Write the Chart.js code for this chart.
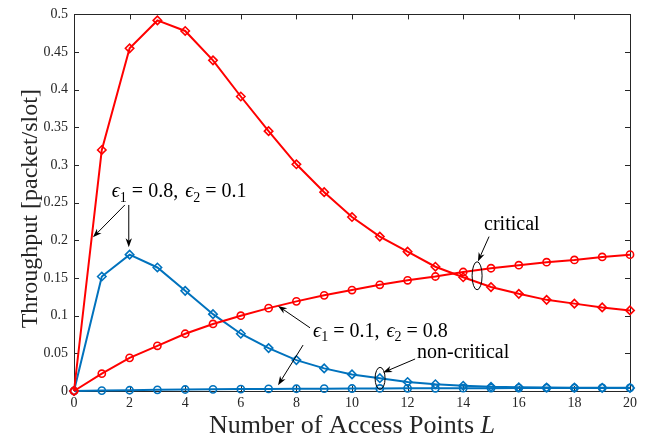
<!DOCTYPE html>
<html>
<head>
<meta charset="utf-8">
<script src="https://cdn.jsdelivr.net/npm/chart.js@4/dist/chart.umd.min.js"></script>
<style>
  html, body { margin: 0; padding: 0; background: #fff; }
</style>
</head>
<body>
<canvas id="chart" width="659" height="440"></canvas>
<script>
const accessPoints = [0, 1, 2, 3, 4, 5, 6, 7, 8, 9, 10, 11, 12, 13, 14, 15, 16, 17, 18, 19, 20];

// eps1 = 0.8, eps2 = 0.1
const criticalHigh = [0, 0.320, 0.455, 0.492, 0.478, 0.439, 0.391, 0.345, 0.301, 0.264, 0.231,
  0.205, 0.185, 0.165, 0.151, 0.138, 0.129, 0.121, 0.116, 0.111, 0.107];
const nonCriticalHigh = [0, 0.152, 0.181, 0.164, 0.133, 0.102, 0.076, 0.057, 0.041, 0.030, 0.022,
  0.017, 0.012, 0.009, 0.007, 0.0055, 0.005, 0.0046, 0.0044, 0.0042, 0.004];

// eps1 = 0.1, eps2 = 0.8
const criticalLow = [0, 0.023, 0.044, 0.060, 0.076, 0.089, 0.100, 0.110, 0.119, 0.127, 0.134,
  0.141, 0.147, 0.152, 0.158, 0.163, 0.167, 0.171, 0.174, 0.178, 0.181];
const nonCriticalLow = [0, 0.0005, 0.001, 0.0015, 0.002, 0.0022, 0.0025, 0.0028, 0.003, 0.0031, 0.0033,
  0.0034, 0.0035, 0.0036, 0.0037, 0.0038, 0.0039, 0.004, 0.004, 0.0041, 0.0042];

const xTicks = [0, 2, 4, 6, 8, 10, 12, 14, 16, 18, 20];

const RED = '#ff0000';
const BLUE = '#0072bd';
const AXIS = '#262626';
const SERIF = '"Liberation Serif", "DejaVu Serif", serif';

function pts(ys) {
  return accessPoints.map((x, i) => ({ x: x, y: ys[i] }));
}

function series(ys, color, style) {
  return {
    data: pts(ys),
    borderColor: color,
    backgroundColor: 'rgba(0,0,0,0)',
    borderWidth: 2,
    pointStyle: style,
    pointRadius: style === 'rectRot' ? 4.2 : 3.6,
    pointBorderWidth: 1.6,
    pointBorderColor: color,
    pointBackgroundColor: 'rgba(0,0,0,0)',
    tension: 0,
    clip: false
  };
}

// draw text made of pieces (italic, subscript, extra gaps)
function richText(ctx, parts, x, y, size) {
  let cx = x;
  ctx.textAlign = 'left';
  ctx.textBaseline = 'alphabetic';
  parts.forEach(p => {
    if (p.gap) { cx += p.gap; return; }
    const s = p.sub ? size * 0.7 : size;
    ctx.font = (p.it ? 'italic ' : '') + s + 'px ' + SERIF;
    ctx.fillText(p.t, cx, y + (p.sub ? size * 0.22 : 0));
    cx += ctx.measureText(p.t).width;
  });
}

function epsText(a, b) {
  return [
    { t: 'ϵ', it: true }, { t: '1', sub: true }, { gap: 5 }, { t: '=' }, { gap: 5 }, { t: a + ',' }, { gap: 7 },
    { t: 'ϵ', it: true }, { t: '2', sub: true }, { gap: 5 }, { t: '=' }, { gap: 5 }, { t: b }
  ];
}

function arrow(ctx, x1, y1, x2, y2) {
  const a = Math.atan2(y2 - y1, x2 - x1);
  const len = 9, w = 3.2;
  ctx.beginPath();
  ctx.moveTo(x1, y1);
  ctx.lineTo(x2 - Math.cos(a) * len * 0.7, y2 - Math.sin(a) * len * 0.7);
  ctx.stroke();
  ctx.beginPath();
  ctx.moveTo(x2, y2);
  ctx.lineTo(x2 - Math.cos(a) * len + Math.sin(a) * w, y2 - Math.sin(a) * len - Math.cos(a) * w);
  ctx.lineTo(x2 - Math.cos(a) * len * 0.7, y2 - Math.sin(a) * len * 0.7);
  ctx.lineTo(x2 - Math.cos(a) * len - Math.sin(a) * w, y2 - Math.sin(a) * len + Math.cos(a) * w);
  ctx.closePath();
  ctx.fill();
}

const frame = {
  id: 'frame',
  beforeDatasetsDraw(chart) {
    const ctx = chart.ctx, a = chart.chartArea;
    const xs = chart.scales.x, ys = chart.scales.y;
    ctx.save();
    ctx.strokeStyle = AXIS;
    ctx.lineWidth = 1;
    ctx.strokeRect(Math.round(a.left) + 0.5, Math.round(a.top) + 0.5,
      Math.round(a.right - a.left), Math.round(a.bottom - a.top));
    ctx.beginPath();
    xs.ticks.forEach(t => {
      const px = Math.round(xs.getPixelForValue(t.value)) + 0.5;
      ctx.moveTo(px, a.bottom); ctx.lineTo(px, a.bottom - 5);
      ctx.moveTo(px, a.top); ctx.lineTo(px, a.top + 5);
    });
    ys.ticks.forEach(t => {
      const py = Math.round(ys.getPixelForValue(t.value)) + 0.5;
      ctx.moveTo(a.left, py); ctx.lineTo(a.left + 5, py);
      ctx.moveTo(a.right, py); ctx.lineTo(a.right - 5, py);
    });
    ctx.stroke();

    // axis titles
    ctx.fillStyle = AXIS;
    ctx.textBaseline = 'alphabetic';
    const xt1 = 'Number of Access Points ';
    ctx.font = '26px ' + SERIF;
    const w1 = ctx.measureText(xt1).width;
    ctx.font = 'italic 26px ' + SERIF;
    const w2 = ctx.measureText('L').width;
    const sx = (a.left + a.right) / 2 - (w1 + w2) / 2;
    ctx.font = '26px ' + SERIF;
    ctx.textAlign = 'left';
    ctx.fillText(xt1, sx, 433);
    ctx.font = 'italic 26px ' + SERIF;
    ctx.fillText('L', sx + w1, 433);

    ctx.save();
    ctx.translate(37, (a.top + a.bottom) / 2 + 6);
    ctx.rotate(-Math.PI / 2);
    ctx.font = '24px ' + SERIF;
    ctx.textAlign = 'center';
    ctx.fillText('Throughput [packet/slot]', 0, 0);
    ctx.restore();
    ctx.restore();
  },
  afterDatasetsDraw(chart) {
    const ctx = chart.ctx;
    const X = v => chart.scales.x.getPixelForValue(v);
    const Y = v => chart.scales.y.getPixelForValue(v);
    ctx.save();
    ctx.fillStyle = '#000';
    ctx.strokeStyle = '#000';
    ctx.lineWidth = 1;

    richText(ctx, epsText('0.8', '0.1'), X(1.36), Y(0.257), 20);
    arrow(ctx, X(1.83), Y(0.247), X(0.68), Y(0.204));
    arrow(ctx, X(1.97), Y(0.247), X(1.97), Y(0.191));

    richText(ctx, epsText('0.1', '0.8'), X(8.6), Y(0.0722), 20);
    arrow(ctx, X(8.49), Y(0.0839), X(7.34), Y(0.113));
    arrow(ctx, X(8.24), Y(0.061), X(7.34), Y(0.0077));

    richText(ctx, [{ t: 'critical' }], X(14.75), Y(0.214), 20);
    arrow(ctx, X(14.93), Y(0.205), X(14.53), Y(0.172));
    ctx.beginPath();
    ctx.ellipse(X(14.5), Y(0.153), 5, 14, 0, 0, Math.PI * 2);
    ctx.stroke();

    richText(ctx, [{ t: 'non-critical' }], X(12.34), Y(0.0438), 20);
    arrow(ctx, X(12.27), Y(0.0425), X(11.12), Y(0.0245));
    ctx.beginPath();
    ctx.ellipse(X(11.01), Y(0.0168), 5, 11, 0, 0, Math.PI * 2);
    ctx.stroke();
    ctx.restore();
  }
};

new Chart(document.getElementById('chart'), {
  type: 'line',
  data: {
    datasets: [
      series(criticalHigh, RED, 'rectRot'),
      series(criticalLow, RED, 'circle'),
      series(nonCriticalHigh, BLUE, 'rectRot'),
      series(nonCriticalLow, BLUE, 'circle')
    ]
  },
  options: {
    responsive: false,
    animation: false,
    devicePixelRatio: 1,
    layout: { padding: { top: 3, right: 29, left: 0, bottom: 0 } },
    plugins: { legend: { display: false }, tooltip: { enabled: false } },
    scales: {
      x: {
        type: 'linear',
        min: 0,
        max: 20,
        afterBuildTicks: s => { s.ticks = xTicks.map(v => ({ value: v })); },
        afterFit: s => { s.height = 49; },
        ticks: { color: AXIS, font: { family: SERIF, size: 14 }, padding: 4, maxRotation: 0 },
        grid: { display: false, drawTicks: false, tickLength: 0 },
        border: { display: false }
      },
      y: {
        min: 0,
        max: 0.5,
        afterFit: s => { s.width = 74; },
        ticks: {
          stepSize: 0.05,
          color: AXIS,
          font: { family: SERIF, size: 14 },
          padding: 6,
          callback: v => String(+v.toFixed(2))
        },
        grid: { display: false, drawTicks: false, tickLength: 0 },
        border: { display: false }
      }
    }
  },
  plugins: [frame]
});
</script>
</body>
</html>
